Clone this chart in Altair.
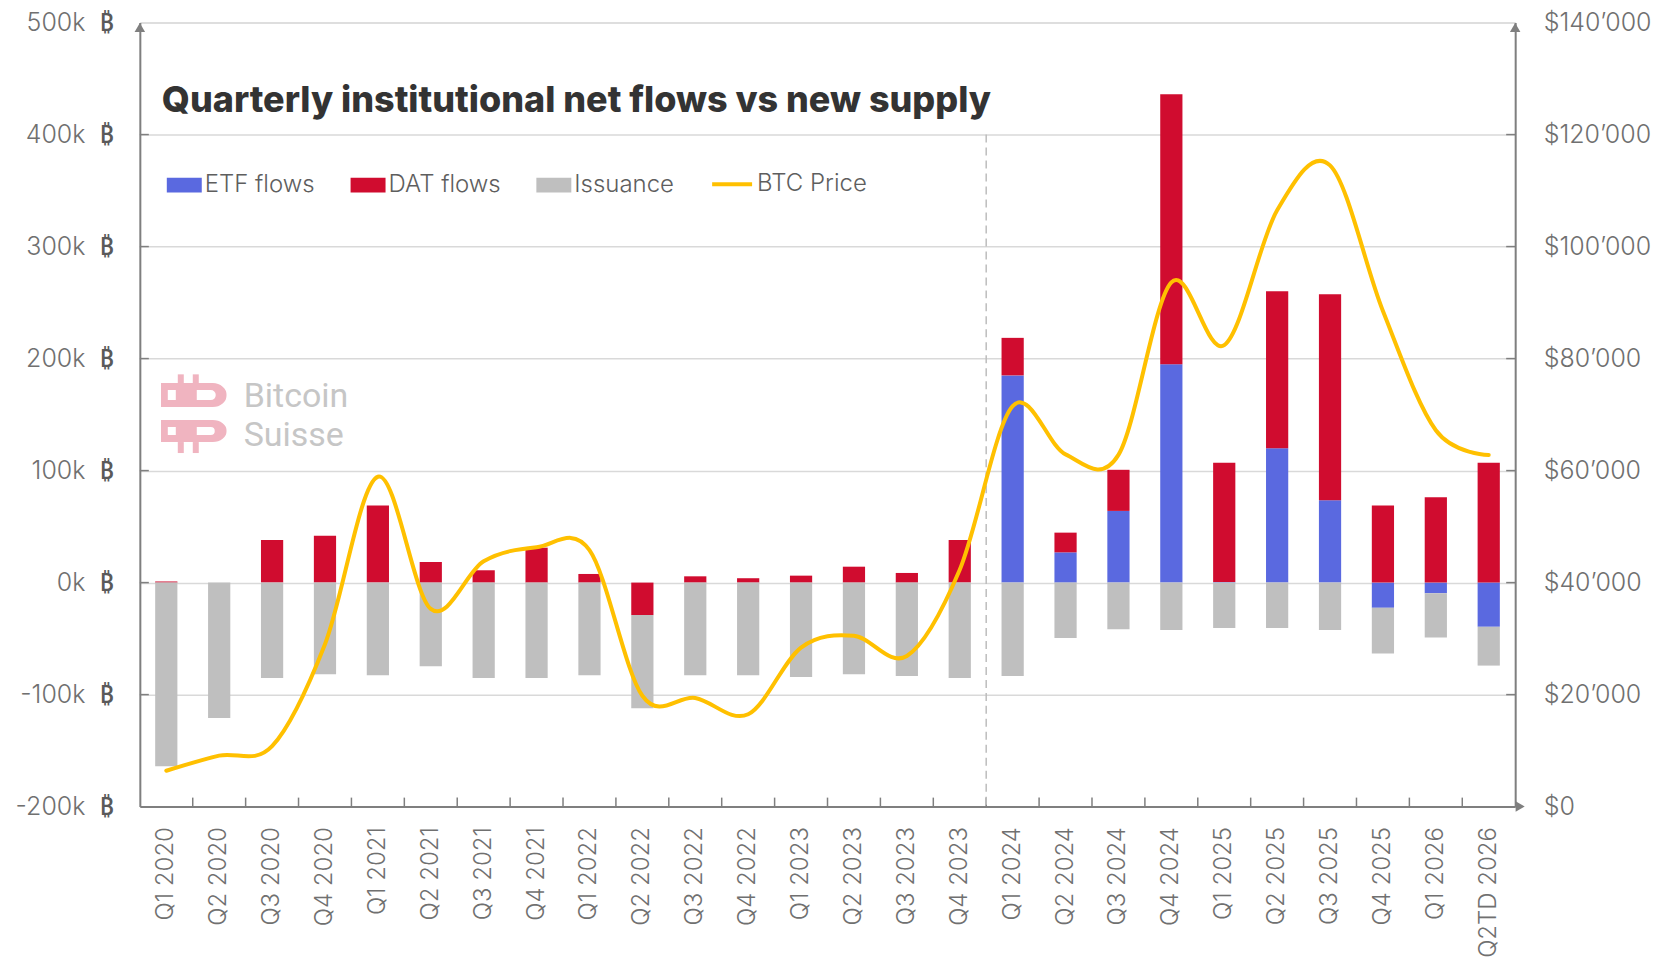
import altair as alt
import pandas as pd
import base64

# ---------------- data ----------------
quarters = ["Q1 2020", "Q2 2020", "Q3 2020", "Q4 2020", "Q1 2021", "Q2 2021", "Q3 2021", "Q4 2021",
            "Q1 2022", "Q2 2022", "Q3 2022", "Q4 2022", "Q1 2023", "Q2 2023", "Q3 2023", "Q4 2023",
            "Q1 2024", "Q2 2024", "Q3 2024", "Q4 2024", "Q1 2025", "Q2 2025", "Q3 2025", "Q4 2025",
            "Q1 2026", "Q2TD 2026"]
etf_flows = [0, 0, 0, 0, 0, 0, 0, 0,
             0, 0, 0, 0, 0, 0, 0, 0,
             185000, 27000, 64000, 195000, 500, 120000, 73500, -22500,
             -9500, -39500]
dat_flows = [1000, 0, 38000, 41800, 68800, 18400, 11000, 31200,
             7700, -29000, 5600, 3900, 6200, 14200, 8600, 38000,
             33500, 17600, 36700, 241000, 106500, 140000, 184000, 68800,
             76200, 107000]
issuance = [-164000, -120800, -85200, -81900, -82800, -74800, -85200, -85200,
            -82800, -83200, -82800, -82800, -84300, -81900, -83400, -85200,
            -83400, -49400, -41600, -42300, -40600, -40600, -42300, -40900,
            -39500, -34600]
btc_price = [6400, 9100, 10800, 29000, 58900, 35300, 43800, 46300,
             45800, 19800, 19400, 16500, 28400, 30500, 26900, 42300,
             71500, 62900, 62800, 93600, 82400, 106500, 114500, 88500,
             67200, 62800]

series_names = ["ETF flows", "DAT flows", "Issuance"]
series_colors = ["#5A69E0", "#D00C2F", "#BFBFBF"]
price_name = "BTC Price"
price_color = "#FFC000"

left_ticks = [-200000, -100000, 0, 100000, 200000, 300000, 400000, 500000]
right_ticks = [0, 20000, 40000, 60000, 80000, 100000, 120000, 140000]
inner_ticks = [-100000, 0, 100000, 200000, 300000, 400000]
btc_sign = "\u20bf"

title_text = "Quarterly institutional net flows vs new supply"

# ---------------- tables ----------------
rows = []
for i, q in enumerate(quarters):
    for rank, (name, arr) in enumerate(zip(series_names, [etf_flows, dat_flows, issuance])):
        rows.append({"quarter": q, "series": name, "value": arr[i], "rank": rank})
flows = pd.DataFrame(rows)
price_df = pd.DataFrame({"quarter": quarters, "price": btc_price, "series": [price_name] * len(quarters)})

W, H = 1377, 785
FONT = 'Inter, "Open Sans", Roboto, "Noto Sans", "DejaVu Sans", sans-serif'
WFONT = 'Roboto, "Noto Sans", sans-serif'
LBL = "#707070"
AX = "#7F7F7F"

x_scale = alt.Scale(paddingInner=0, paddingOuter=0)
x_axis = alt.Axis(title=None, labelAngle=-90, labelFontSize=24, labelFont=FONT, labelFontWeight=300,
                  labelColor=LBL, ticks=False, domainColor=AX, domainWidth=2, labelPadding=20,
                  grid=False, labelOverlap=False)


def X(**kw):
    return alt.X("quarter:N", sort=quarters, scale=x_scale, axis=x_axis, **kw)


left_scale = alt.Scale(domain=[-200000, 500000], nice=False, zero=False)
left_axis = alt.Axis(title=None, orient="left", values=left_ticks,
                     labelExpr="(datum.value/1000) + 'k'",
                     labelFontSize=25, labelFont=FONT, labelFontWeight=300, labelColor=LBL,
                     ticks=False, domainColor=AX, domainWidth=2, labelPadding=55,
                     grid=True, gridColor="#D9D9D9", gridWidth=1.5)
right_scale = alt.Scale(domain=[0, 140000], nice=False, zero=False)
right_axis = alt.Axis(title=None, orient="right", values=right_ticks,
                      labelExpr="'$' + replace(format(datum.value, ','), ',', '\u2019')",
                      labelFontSize=25, labelFont=FONT, labelFontWeight=300, labelColor=LBL,
                      ticks=False, domainColor=AX, domainWidth=2, labelPadding=28, grid=False)

bars = alt.Chart(flows).mark_bar(width=alt.RelativeBandSize(0.42)).encode(
    x=X(),
    y=alt.Y("value:Q", stack="zero", scale=left_scale, axis=left_axis),
    color=alt.Color("series:N",
                    scale=alt.Scale(domain=series_names, range=series_colors),
                    legend=alt.Legend(orient="none", legendX=27, legendY=145, direction="horizontal",
                                      title=None, symbolType="M-1,-0.42H1V0.42H-1Z", symbolSize=1225,
                                      symbolStrokeWidth=0, symbolOpacity=1, labelFontSize=24,
                                      labelFont=FONT, labelFontWeight=300, labelColor="#5E5E5E",
                                      labelOffset=3, columnPadding=35)),
    order=alt.Order("rank:Q"),
)

x_tick_df = pd.DataFrame({"quarter": quarters[1:]})
x_ticks = alt.Chart(x_tick_df).mark_rule(color=AX, strokeWidth=1.5).encode(
    x=X(bandPosition=0), y=alt.value(H - 9), y2=alt.value(H))

divider_df = pd.DataFrame({"quarter": ["Q1 2024"]})
divider = alt.Chart(divider_df).mark_rule(color="#BDBDBD", strokeWidth=1.5, strokeDash=[8, 5]).encode(
    x=X(bandPosition=0), y=alt.datum(400000), y2=alt.datum(-200000))

yt_df = pd.DataFrame({"v": inner_ticks})
y_ticks_left = alt.Chart(yt_df).mark_rule(color=AX, strokeWidth=1.5).encode(
    y=alt.Y("v:Q", scale=left_scale, axis=left_axis), x=alt.value(0), x2=alt.value(9))
y_ticks_right = alt.Chart(yt_df).mark_rule(color=AX, strokeWidth=1.5).encode(
    y=alt.Y("v:Q", scale=left_scale, axis=left_axis), x=alt.value(W - 9), x2=alt.value(W))

sign_df = pd.DataFrame({"v": left_ticks, "sign": [btc_sign] * len(left_ticks)})
btc_signs = alt.Chart(sign_df).mark_text(align="right", baseline="middle", fontSize=25, font=WFONT,
                                         fontWeight=500, color="#5A5A5A").encode(
    y=alt.Y("v:Q", scale=left_scale, axis=left_axis), x=alt.value(-26), text="sign:N")

one = pd.DataFrame({"a": [0]})
title = alt.Chart(one).mark_text(align="left", baseline="alphabetic", fontSize=36, fontWeight=800,
                                 font=FONT, color="#333333").encode(
    x=alt.value(22), y=alt.value(90), text=alt.value(title_text))

wm1 = alt.Chart(one).mark_text(align="left", baseline="alphabetic", fontSize=34, font=WFONT,
                               color="#C6C6C6").encode(x=alt.value(104), y=alt.value(385),
                                                       text=alt.value("Bitcoin"))
wm2 = alt.Chart(one).mark_text(align="left", baseline="alphabetic", fontSize=34, font=WFONT,
                               color="#C6C6C6").encode(x=alt.value(104), y=alt.value(424),
                                                       text=alt.value("Suisse"))

logo_svg = ('<svg xmlns="http://www.w3.org/2000/svg" width="66" height="80" viewBox="0 0 66 80">'
            '<g fill="#F0B4C0" fill-rule="evenodd">'
            '<path d="M0,9 H52 A14,12 0 0 1 66,21 A14,12 0 0 1 52,33 H0 Z M7,16 H15 V26 H7 Z M36,16 H50 A5,5 0 0 1 50,26 H36 Z"/>'
            '<rect x="17" y="0" width="6" height="9"/><rect x="32" y="0" width="6" height="9"/>'
            '<path d="M0,46 H52 A14,11 0 0 1 66,57 A14,11 0 0 1 52,68 H0 Z M7,53 H15 V61 H7 Z M36,53 H50 A4,4 0 0 1 50,61 H36 Z"/>'
            '<rect x="17" y="68" width="6" height="11"/><rect x="32" y="68" width="6" height="11"/>'
            '</g></svg>')
logo_url = "data:image/svg+xml;base64," + base64.b64encode(logo_svg.encode()).decode()
logo = alt.Chart(one).mark_image(width=66, height=80, align="left", baseline="top").encode(
    x=alt.value(21), y=alt.value(352), url=alt.value(logo_url))

arrow_l = alt.Chart(one).mark_point(shape="triangle-up", filled=True, size=110, color=AX, opacity=1).encode(
    x=alt.value(0), y=alt.value(5))
arrow_r = alt.Chart(one).mark_point(shape="triangle-up", filled=True, size=110, color=AX, opacity=1).encode(
    x=alt.value(W), y=alt.value(5))
arrow_x = alt.Chart(one).mark_point(shape="triangle-right", filled=True, size=110, color=AX, opacity=1).encode(
    x=alt.value(W + 5), y=alt.value(H))

left_group = alt.layer(x_ticks, bars, divider, y_ticks_left, y_ticks_right, btc_signs, logo, wm1, wm2,
                       title, arrow_l, arrow_r, arrow_x)

line = alt.Chart(price_df).mark_line(interpolate="cardinal", strokeWidth=4, strokeCap="round").encode(
    x=X(),
    y=alt.Y("price:Q", scale=right_scale, axis=right_axis),
    stroke=alt.Stroke("series:N", scale=alt.Scale(domain=[price_name], range=[price_color]),
                      legend=alt.Legend(orient="none", legendX=571, legendY=140, title=None,
                                        symbolType="stroke", symbolSize=1600, symbolStrokeWidth=4,
                                        labelFontSize=24, labelFont=FONT, labelFontWeight=300,
                                        labelColor="#5E5E5E", labelOffset=3)),
)

chart = alt.layer(left_group, line).resolve_scale(y="independent", stroke="independent", color="independent").properties(
    width=W, height=H,
    padding={"left": 132, "top": 14, "right": 142, "bottom": 150},
    autosize=alt.AutoSizeParams(type="none"),
).configure_view(stroke=None).configure(background="white")

chart.save("out.html", embed_options={"renderer": "svg", "actions": False})
